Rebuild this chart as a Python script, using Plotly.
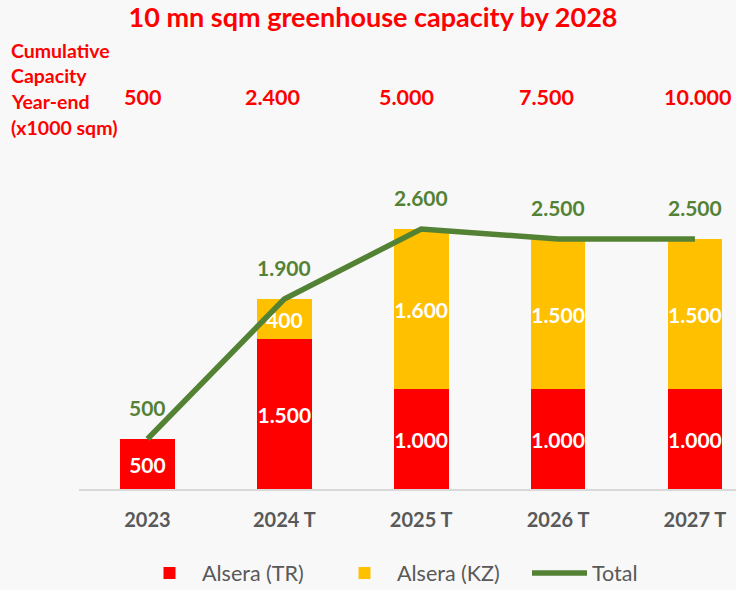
import plotly.graph_objects as go

categories = ["2023", "2024 T", "2025 T", "2026 T", "2027 T"]
alsera_tr = [500, 1500, 1000, 1000, 1000]
alsera_kz = [0, 400, 1600, 1500, 1500]
total = [500, 1900, 2600, 2500, 2500]
cumulative = [500, 2400, 5000, 7500, 10000]
left_label_lines = ["Cumulative", "Capacity", "Year-end", "(x1000 sqm)"]

RED = "#ff0000"
YELLOW = "#ffc000"
GREEN = "#548235"
GRAY = "#595959"
FONT = "Lato"

W, H = 736, 590
ML, MR, MT, MB = 79, 0, 150, 101
PW, PH = W - ML - MR, H - MT - MB


def px_x(px):
    return (px - ML) / PW


def px_y(py):
    return (H - MB - py) / PH


def fmt(v):
    return f"{v:,}".replace(",", ".")


fig = go.Figure()
fig.add_trace(go.Bar(
    x=categories, y=alsera_tr, name="Alsera (TR)",
    marker=dict(color=RED, line=dict(width=0)),
    text=[fmt(v) if v else "" for v in alsera_tr],
    textposition="inside", insidetextanchor="middle", textangle=0,
    constraintext="none",
    textfont=dict(family=FONT, size=21, color="white", weight="bold"),
))
fig.add_trace(go.Bar(
    x=categories, y=alsera_kz, name="Alsera (KZ)",
    marker=dict(color=YELLOW, line=dict(width=0)),
    text=[fmt(v) if v else "" for v in alsera_kz],
    textposition="inside", insidetextanchor="middle", textangle=0,
    constraintext="none",
    textfont=dict(family=FONT, size=21, color="white", weight="bold"),
))
fig.add_trace(go.Scatter(
    x=categories, y=total, name="Total", mode="lines",
    line=dict(color=GREEN, width=5.5),
))

annotations = []
for i, v in enumerate(total):
    annotations.append(dict(
        x=i, y=v, xref="x", yref="y", text=fmt(v), showarrow=False,
        yshift=32, font=dict(family=FONT, size=21, color=GREEN, weight="bold"),
    ))

cum_x = [142, 272, 406, 546, 697]
for px, v in zip(cum_x, cumulative):
    annotations.append(dict(
        x=px_x(px), y=px_y(97), xref="paper", yref="paper",
        text=fmt(v), showarrow=False, xanchor="center", yanchor="middle",
        font=dict(family=FONT, size=21.5, color=RED, weight="bold"),
    ))

for i, line in enumerate(left_label_lines):
    annotations.append(dict(
        x=px_x(9), y=px_y(50 + 25.7 * i), xref="paper", yref="paper",
        text=line, showarrow=False, xanchor="left", yanchor="middle",
        font=dict(family=FONT, size=19.5, color=RED, weight="bold"),
    ))

fig.update_layout(
    width=W, height=H,
    barmode="stack", bargap=0.6,
    paper_bgcolor="#f8f8f8", plot_bgcolor="rgba(0,0,0,0)",
    margin=dict(l=ML, r=MR, t=MT, b=MB),
    title=dict(
        text="10 mn sqm greenhouse capacity by 2028",
        x=373 / W, xref="container", xanchor="center",
        y=1 - 18 / H, yref="container", yanchor="middle",
        font=dict(family=FONT, size=27, color=RED, weight="bold"),
    ),
    xaxis=dict(
        type="category",
        range=[-0.5, 4.3], showline=True, linecolor="#d9d9d9", linewidth=2,
        ticks="outside", ticklen=12, tickcolor="rgba(0,0,0,0)",
        tickfont=dict(family=FONT, size=20, color=GRAY, weight="bold"),
        showgrid=False, zeroline=False,
    ),
    yaxis=dict(range=[0, 3390], visible=False, showgrid=False, zeroline=False),
    legend=dict(
        orientation="h", xref="container", yref="container",
        x=429.5 / W, xanchor="center", y=17 / H, yanchor="middle",
        font=dict(family=FONT, size=21.5, color=GRAY),
        bgcolor="rgba(0,0,0,0)", itemwidth=55, traceorder="normal",
        entrywidth=125,
    ),
    annotations=annotations,
    showlegend=True,
)

fig.write_html(
    "out.html",
    config={"displayModeBar": False},
    post_script="document.body.style.margin='0';document.body.style.overflow='hidden';",
)
